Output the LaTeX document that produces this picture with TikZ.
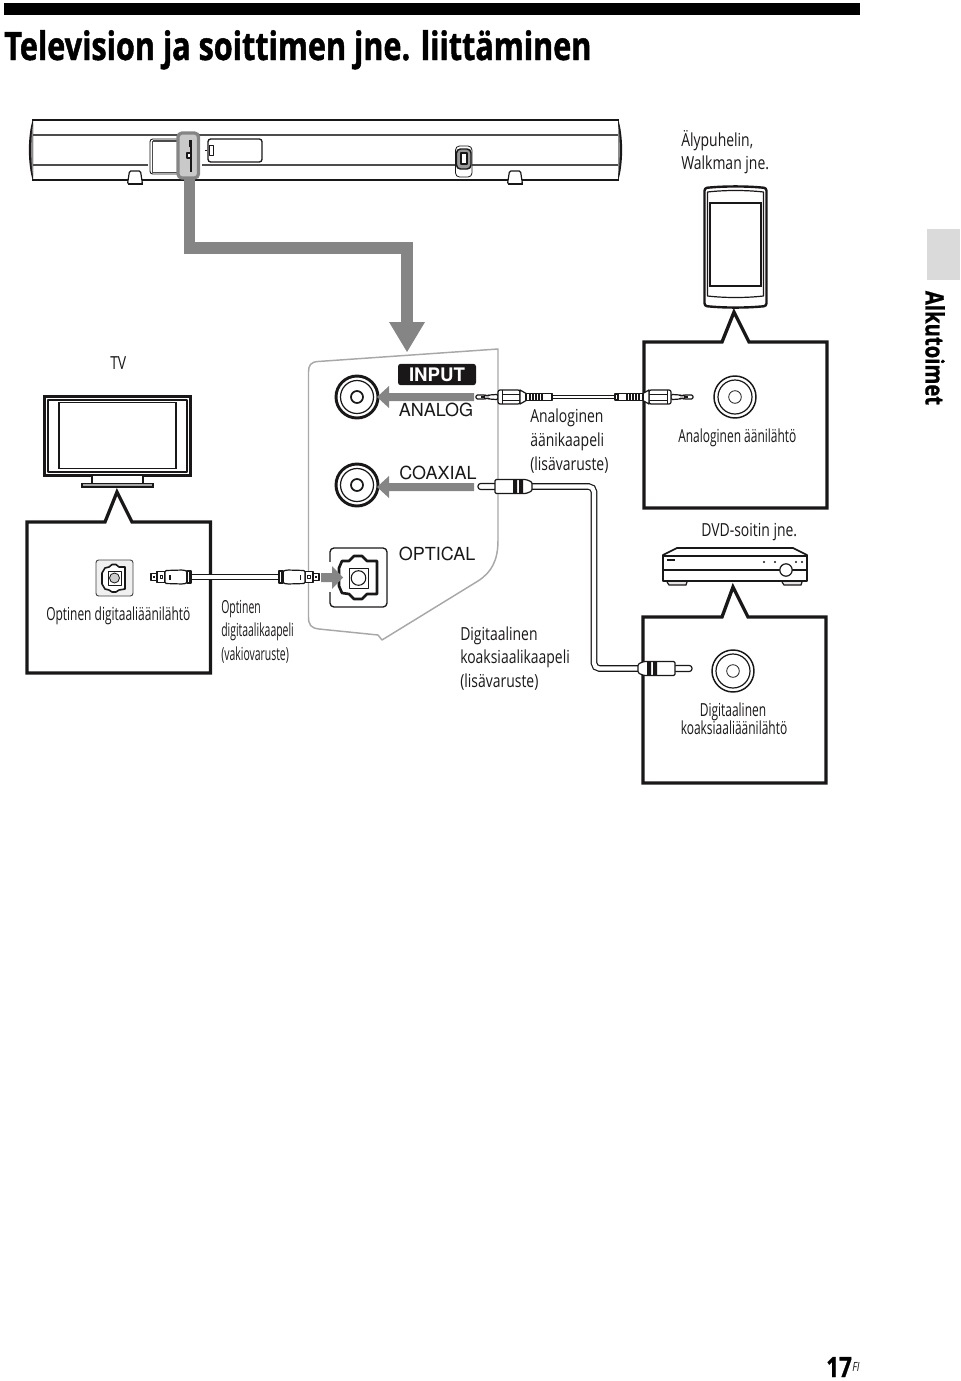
\documentclass[tikz,border=0pt]{standalone}
\usepackage{fontspec}
\setmainfont{Open Sans}
\newfontfamily\lblfont[FakeStretch=0.775]{Open Sans}
\newfontfamily\smallfont[FakeStretch=0.665]{Open Sans}
\newfontfamily\tightfont[FakeStretch=0.58]{Open Sans}
\newfontfamily\headfont[FakeStretch=0.78,FakeBold=1.2]{Open Sans Bold}
\newfontfamily\tabfont[FakeStretch=0.80,FakeBold=0.8]{Open Sans Bold}
\newfontfamily\panelfont{TeX Gyre Heros}
\usetikzlibrary{calc}
\definecolor{arrowgray}{HTML}{858585}
\definecolor{panelgray}{HTML}{A8A8A8}
\definecolor{barhigh}{HTML}{C9C9C9}
\definecolor{tabgray}{HTML}{DADADA}
\definecolor{inkblack}{HTML}{1A1718}
\tikzset{
  x=0.75pt,y=-0.75pt,
  ink/.style={draw=inkblack,line width=0.9pt,line join=round},
  thin ink/.style={draw=inkblack,line width=0.6pt,line join=round},
  heavy/.style={draw=inkblack,line width=2.5pt,line join=miter},
  caption/.style={font=\lblfont\fontsize{13.5}{15}\selectfont,anchor=base west,inner sep=0pt,text=inkblack},
  small caption/.style={font=\smallfont\fontsize{13.5}{15}\selectfont,anchor=base west,inner sep=0pt,text=inkblack},
  tight caption/.style={font=\tightfont\fontsize{13.5}{15}\selectfont,anchor=base west,inner sep=0pt,text=inkblack},
  panel label/.style={font=\panelfont\fontsize{13.5}{15}\selectfont,anchor=base,inner sep=0pt,text=inkblack},
  gray flow/.style={fill=arrowgray,draw=none},
  jackring/.pic={
    \draw[draw=inkblack,line width=2.2pt,fill=white] (0,0) circle[radius=21];
    \draw[ink] (0,0) circle[radius=16.5];
    \draw[draw=inkblack,line width=1.3pt] (0,0) circle[radius=6];
  },
  jackthin/.pic={
    \draw[draw=inkblack,line width=1.1pt,fill=white] (0,0) circle[radius=21];
    \draw[ink] (0,0) circle[radius=17];
    \draw[thin ink] (0,0) circle[radius=6.3];
  },
  minijack/.pic={
    \draw[ink,fill=white,rounded corners=1pt] (0,-2) -- (9,-2) -- (10,-1.2) -- (12,-1.2) -- (13,-2) -- (22,-2.6) -- (22,2.6) -- (13,2) -- (12,1.2) -- (10,1.2) -- (9,2) -- (0,2) -- cycle;
    \fill[inkblack] (5,-1) rectangle (9,1);
    \draw[ink,fill=white,rounded corners=1.5pt] (22,-7) rectangle (44,7);
    \draw[thin ink] (26,-7) -- (26,7) (26,-3) -- (44,-3) (26,3) -- (44,3);
    \draw[ink,fill=white] (44,-7) -- (50,-3.6) -- (50,3.6) -- (44,7) -- cycle;
    \draw[ink,fill=white] (50,-3.6) rectangle (76,3.6);
    \foreach \r in {53,56,59,62,65}{\fill[inkblack] (\r,-3.6) rectangle (\r+1.6,3.6);}
  },
  rcaplug/.pic={
    \draw[ink,fill=white,rounded corners=2pt] (0,-3) rectangle (19,3);
    \draw[ink,fill=white,rounded corners=1pt] (17,-7) -- (48,-7) -- (54,-4.5) -- (54,4.5) -- (48,7) -- (17,7) -- cycle;
    \fill[inkblack] (35,-7) rectangle (39,7) (41,-7) rectangle (45,7);
  },
  opticalplug/.pic={
    \draw[ink,fill=white] (0,-3.5) rectangle (6,3.5);
    \draw[ink,fill=white] (6,-5.5) rectangle (14,5.5);
    \fill[inkblack] (2,-1.3) rectangle (4,1.3);
    \draw[thin ink] (9,-1.8) rectangle (11.5,1.8);
    \draw[ink,fill=white,rounded corners=1pt] (14,-6.5) -- (32,-7) -- (36,-6) -- (36,6) -- (32,7) -- (14,6.5) -- cycle;
    \fill[inkblack] (18,-2.5) rectangle (19.5,2.5);
    \draw[ink,fill=white] (36,-6) rectangle (40,6);
    \draw[thin ink] (38,-6) -- (38,6);
  },
  barfoot/.pic={
    \draw[draw=inkblack,line width=0.9pt,fill=white,rounded corners=1pt] (-7.5,4) -- (-5.5,-9) -- (5.5,-9) -- (7.5,4) -- cycle;
    \draw[draw=inkblack,line width=1.4pt] (-7.5,4) -- (7.5,4);
  }
}
\begin{document}
\begin{tikzpicture}
\useasboundingbox (0,0) rectangle (960,1381);

% page furniture
\fill[black] (4,3) rectangle (860,14.5);
\fill[tabgray] (927,229) rectangle (960,280);
\node[font=\headfont\fontsize{29.4}{32}\selectfont,anchor=base west,inner sep=0pt,text=black] (title) at (4,60) {Television ja soittimen jne. liittäminen};
\node[font=\tabfont\fontsize{19}{21}\selectfont,anchor=center,inner sep=0pt,rotate=-90,text=black] (section) at (935,348) {Alkutoimet};
\node[font=\tabfont\fontsize{21}{23}\selectfont,anchor=base west,inner sep=0pt,text=black] (page) at (826,1377) {17};
\node[font=\lblfont\itshape\fontsize{9.5}{10}\selectfont,anchor=base west,inner sep=0pt,text=inkblack] (pagesuffix) at (852,1371) {FI};

% soundbar seen from behind
\draw[draw=black!70,line width=0.9pt] (33,135) -- (618,135);
\draw[draw=black!70,line width=0.9pt] (33,165) -- (148,165) (202,165) -- (455,165) (472,165) -- (618,165);
\draw[draw=inkblack,line width=1.6pt] (32,120) -- (619,120) (32,180) -- (619,180);
\fill[inkblack] (33,119) .. controls (27.5,135) and (27.5,165) .. (33,181) -- cycle;
\fill[black!45] (33,124) .. controls (30.5,138) and (30.5,162) .. (33,176) -- cycle;
\fill[inkblack] (618,119) .. controls (623.5,135) and (623.5,165) .. (618,181) -- cycle;
\fill[black!45] (618,124) .. controls (620.5,138) and (620.5,162) .. (618,176) -- cycle;
\pic at (135,180) {barfoot};
\pic at (515,180) {barfoot};
\draw[draw=inkblack,line width=0.7pt,fill=white,rounded corners=2pt] (150,139) rectangle (199,174);
\draw[draw=black!70,line width=1.1pt] (153,141) -- (197,141);
\draw[draw=black!70,line width=0.7pt] (152,141) -- (152,172) -- (178,172);
\draw[draw=inkblack,line width=1pt,fill=white,rounded corners=2pt] (208,139) rectangle (262,162);
\draw[thin ink,fill=white] (209,145) rectangle (213,155);
\fill[inkblack] (205,149.5) rectangle (206.5,151);
\draw[thin ink,fill=white,rounded corners=3pt] (455.5,146) rectangle (472,177);
\draw[draw=inkblack,line width=1.1pt,fill=black!40,rounded corners=3pt] (456.5,149) rectangle (471,169);
\draw[ink,fill=white] (461,153) rectangle (467,164);

% highlighted connector area and the flow arrow leaving it
\draw[draw=arrowgray,line width=2.4pt,fill=barhigh,rounded corners=3pt] (178,133) rectangle (198.5,178);
\draw[draw=inkblack,line width=1.1pt] (191,140) -- (191,172);
\fill[inkblack] (189,140) rectangle (191,147);
\draw[ink,fill=white] (187,153) rectangle (191,158);
\draw[arrowgray,line width=8.6pt,line join=miter] (189.5,179) -- (189.5,248) -- (407,248) -- (407,323);
\fill[arrowgray] (389,322) -- (425,322) -- (407,352) -- cycle;

% input panel outline
\draw[draw=panelgray,line width=1.1pt,line join=round]
  (498,349) -- (318,361.5) .. controls (311,362) and (308.5,365) .. (308.5,372)
  -- (308.5,617) .. controls (308.5,625) and (311,628) .. (319,629)
  -- (378,635) -- (382,640) -- (478,581) .. controls (492,572) and (498,560) .. (498,540) -- cycle;

% panel jacks and labels
\pic at (357,397) {jackring};
\pic at (357,485) {jackring};
\draw[gray flow] (474,393) -- (389,393) -- (389,386) -- (377,397) -- (389,408) -- (389,401) -- (474,401) -- cycle;
\draw[gray flow] (474,483) -- (389,483) -- (389,476) -- (377,487) -- (389,498) -- (389,491) -- (474,491) -- cycle;
\node[fill=inkblack,rounded corners=2pt,minimum width=58.5pt,minimum height=16pt,inner sep=0pt,text=white,font=\panelfont\bfseries\fontsize{14}{15}\selectfont] (inputtag) at (437,374.5) {INPUT};
\node[panel label] (analogtag) at (436,416.5) {ANALOG};
\node[panel label] (coaxtag) at (438,479.5) {COAXIAL};
\node[panel label] (opticaltag) at (437,560.5) {OPTICAL};

% optical socket on the panel
\draw[draw=inkblack,line width=1pt,rounded corners=3pt] (330,548) rectangle (387,607);
\draw[draw=inkblack,line width=2pt,line join=round] (377,561) -- (367,561) -- (362,556) -- (354,556) -- (349,561) -- (342,561) -- (339,568) -- (339,586) -- (342,593) -- (349,594) -- (354,599) -- (362,599) -- (367,594) -- (377,594) -- cycle;
\draw[thin ink,fill=white] (349,568) rectangle (368,588);
\draw[draw=inkblack,line width=0.8pt] (358.5,578) circle[radius=7.3];
\fill[white] (326,562) rectangle (331,592);
\draw[gray flow] (321,573) -- (332,573) -- (332,566) -- (343,577.5) -- (332,589) -- (332,582) -- (321,582) -- cycle;

% television
\draw[draw=inkblack,line width=2pt,fill=white] (44.5,396.5) rectangle (190.5,475.5);
\draw[ink] (48,400) rectangle (187,472);
\draw[draw=inkblack,line width=0.9pt] (59,402.5) rectangle (176,468.5);
\draw[draw=inkblack,line width=1.1pt,fill=white] (92,476) -- (92,484) -- (143,484) -- (143,476);
\draw[draw=inkblack,line width=1.1pt,fill=black!35] (82,483.5) rectangle (153,487);

% callout around the TV output
\draw[heavy,fill=white] (27,522) -- (105,522) -- (117,492) -- (132,522) -- (210.5,522) -- (210.5,673) -- (27,673) -- cycle;
\draw[draw=black!75,line width=0.7pt,fill=black!6,rounded corners=2pt] (96,560) rectangle (133,596);
\draw[draw=inkblack,line width=1.2pt,fill=white,line join=round] (125,567) -- (119,567) -- (116,564.5) -- (112,564.5) -- (109,567) -- (105,568) -- (102,573) -- (102,584) -- (105,589) -- (109,590) -- (112,592) -- (116,592) -- (119,590) -- (125,589) -- cycle;
\draw[thin ink] (108,571) rectangle (121,585);
\draw[thin ink,fill=black!20] (114.5,578) circle[radius=5];
\node[small caption] (tvout) at (46,620) {Optinen digitaaliäänilähtö};
\node[caption] (tvname) at (110,369) {TV};

% optical cable
\coordinate (optleft) at (190,577);
\coordinate (optright) at (280,577);
\draw[inkblack,line width=5pt] (optleft) -- (optright);
\draw[white,line width=3.4pt] (optleft) -- (optright);
\pic at (151,577) {opticalplug};
\pic[xscale=-1] at (319,577) {opticalplug};
\node[tight caption] (optcap1) at (221,613) {Optinen};
\node[tight caption] (optcap2) at (221,636) {digitaalikaapeli};
\node[tight caption] (optcap3) at (221,660) {(vakiovaruste)};

% analogue audio cable
\coordinate (auxleft) at (553,397);
\coordinate (auxright) at (618,397);
\draw[inkblack,line width=3pt] (auxleft) -- (auxright);
\draw[white,line width=1.3pt] (auxleft) -- (auxright);
\node[caption] (auxcap1) at (530,422) {Analoginen};
\node[caption] (auxcap2) at (530,446) {äänikaapeli};
\node[caption] (auxcap3) at (530,470) {(lisävaruste)};

% portable player and its callout
\node[caption] (phone1) at (681,146) {Älypuhelin,};
\node[caption] (phone2) at (681,169) {Walkman jne.};
\draw[draw=inkblack,line width=1.8pt,fill=white,rounded corners=2pt] (704.5,188) .. controls (725,186) and (746,186) .. (766.5,188) -- (766.5,306) .. controls (746,308) and (725,308) .. (704.5,306) -- cycle;
\draw[ink] (707.5,192) .. controls (725,190) and (746,190) .. (763.5,192) -- (763.5,296) .. controls (746,298) and (725,298) .. (707.5,296) -- cycle;
\draw[draw=inkblack,line width=0.8pt] (710,203) rectangle (761,286);
\draw[heavy,fill=white] (644,342) -- (722,342) -- (734,312) -- (749,342) -- (827,342) -- (827,508) -- (644,508) -- cycle;
\pic at (735,397) {jackthin};
\node[small caption] (auxout) at (678,442) {Analoginen äänilähtö};

% plugs of the analogue cable, on top of the panel and callout
\pic at (476,397) {minijack};
\pic[xscale=-1] at (693,397) {minijack};
\draw[ink,fill=white] (615,394) rectangle (618,400);

% DVD player and its callout
\node[caption] (dvdname) at (701,536) {DVD-soitin jne.};
\draw[draw=inkblack,line width=1.3pt,fill=white,line join=round] (663,555) -- (677,548) -- (793,548) -- (807,555) -- (807,581) -- (663,581) -- cycle;
\draw[ink] (663,556) -- (807,556);
\draw[draw=inkblack,line width=1.3pt] (663,570) -- (807,570);
\draw[draw=inkblack,line width=0.9pt,fill=black!10] (667,582) -- (669,585) -- (686,585) -- (687,582);
\draw[draw=inkblack,line width=0.9pt,fill=black!10] (782,582) -- (784,585) -- (801,585) -- (802,582);
\draw[ink] (667,560) -- (675,560);
\foreach \d in {764,775,796,802}{\fill[inkblack] (\d,562) circle[radius=1.2];}
\draw[ink,fill=white] (786,570) circle[radius=6.2];
\draw[heavy,fill=white] (643,617) -- (722,617) -- (733,587) -- (748,617) -- (826,617) -- (826,783) -- (643,783) -- cycle;
\pic at (733,671) {jackthin};
\node[small caption,anchor=base] (coaxout1) at (733,716) {Digitaalinen};
\node[small caption,anchor=base] (coaxout2) at (734,734) {koaksiaaliäänilähtö};

% coaxial cable
\coordinate (coaxleft) at (532,486.5);
\coordinate (coaxright) at (638,668.5);
\draw[inkblack,line width=5pt,rounded corners=4pt] (coaxleft) -- (594,486.5) -- (594,668.5) -- (coaxright);
\draw[white,line width=3.2pt,rounded corners=4pt] (coaxleft) -- (594,486.5) -- (594,668.5) -- (coaxright);
\pic at (478,486.5) {rcaplug};
\pic[xscale=-1] at (692,668.5) {rcaplug};
\node[caption] (coaxcap1) at (460,640) {Digitaalinen};
\node[caption] (coaxcap2) at (460,663) {koaksiaalikaapeli};
\node[caption] (coaxcap3) at (460,687) {(lisävaruste)};
\end{tikzpicture}
\end{document}
